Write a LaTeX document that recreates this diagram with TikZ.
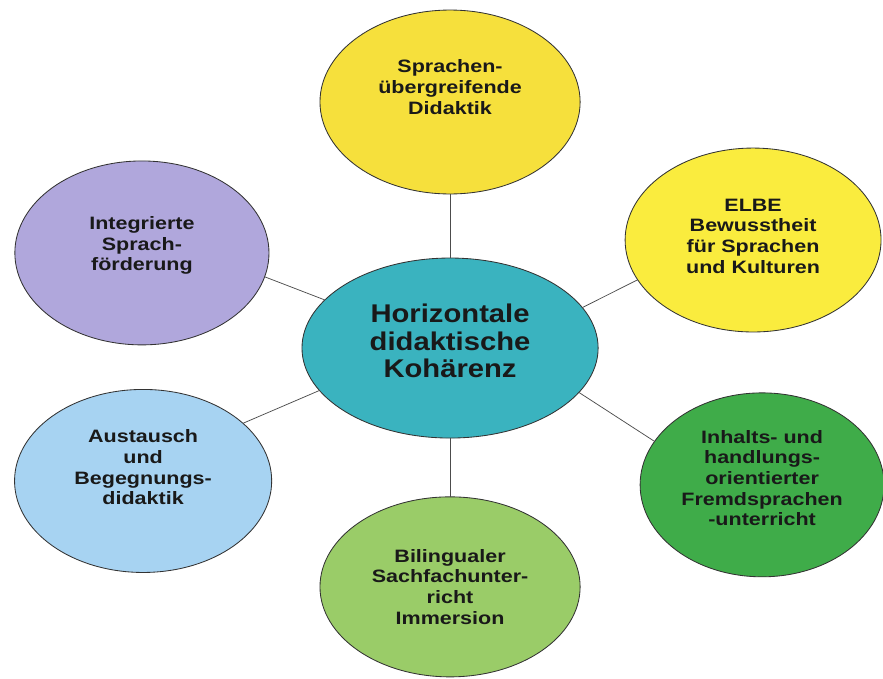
\documentclass[tikz,border=0pt]{standalone}
\usepackage{fontspec}
\setmainfont{Liberation Sans}
\newfontfamily\bubblefont[FakeStretch=1.2]{Liberation Sans}
\newfontfamily\hubfont[FakeStretch=1.14]{Liberation Sans}
\usetikzlibrary{shapes.geometric}

\definecolor{hubteal}{HTML}{3AB3BF}
\definecolor{sprachenyellow}{HTML}{F6E03C}
\definecolor{elbeyellow}{HTML}{FAEC3E}
\definecolor{integriertlilac}{HTML}{B0A7DC}
\definecolor{austauschblue}{HTML}{A7D3F2}
\definecolor{bilingualgreen}{HTML}{9ACC68}
\definecolor{inhaltegreen}{HTML}{3FAC49}

\begin{document}
\begin{tikzpicture}[bubble/.style={ellipse,draw=black!80,line width=0.8pt,inner sep=0pt,outer sep=0pt},
  bubble text/.style={align=center,text=black!90,font=\bubblefont\bfseries\fontsize{17}{19.6}\selectfont},
  hub text/.style={align=center,text=black!90,font=\hubfont\bfseries\fontsize{24.3}{26.2}\selectfont},
  link/.style={draw=black!70,line width=0.7pt}]

\useasboundingbox (0,0) rectangle (29.43,22.63);

% centre
\node[bubble,fill=hubteal,minimum width=9.87cm,minimum height=6cm] (hub) at (15.0,11.03) {};
\node[hub text] (hubtext) at ([yshift=2.3mm]hub.center) {Horizontale\\didaktische\\Kohärenz};

% outer ring
\node[bubble,fill=sprachenyellow,minimum width=8.67cm,minimum height=6.13cm] (sprachen) at (15.0,19.23) {};
\node[bubble text] (sprachentext) at ([yshift=5mm]sprachen.center) {Sprachen-\\übergreifende\\Didaktik};

\node[bubble,fill=elbeyellow,minimum width=8.53cm,minimum height=6.13cm] (elbe) at (25.1,14.63) {};
\node[bubble text] (elbetext) at ([yshift=1.3mm]elbe.center) {ELBE\\Bewusstheit\\für Sprachen\\und Kulturen};

\node[bubble,fill=integriertlilac,minimum width=8.47cm,minimum height=6.13cm] (integriert) at (4.73,14.2) {};
\node[bubble text] (integrierttext) at ([yshift=2.5mm]integriert.center) {Integrierte\\Sprach-\\förderung};

\node[bubble,fill=austauschblue,minimum width=8.57cm,minimum height=6.1cm] (austausch) at (4.77,6.6) {};
\node[bubble text] (austauschtext) at ([yshift=4.5mm]austausch.center) {Austausch\\und\\Begegnungs-\\didaktik};

\node[bubble,fill=bilingualgreen,minimum width=8.67cm,minimum height=6cm] (bilingual) at (15.0,3.07) {};
\node[bubble text] (bilingualtext) at (bilingual.center) {Bilingualer\\Sachfachunter-\\richt\\Immersion};

\node[bubble,fill=inhaltegreen,minimum width=8.13cm,minimum height=6.13cm] (inhalte) at (25.4,6.47) {};
\node[bubble text] (inhaltetext) at ([yshift=2.3mm]inhalte.center) {Inhalts- und\\handlungs-\\orientierter\\Fremdsprachen\\-unterricht};

% spokes
\draw[link] (hub.north) -- (sprachen.south);
\draw[link] (hub.south) -- (bilingual.north);
\draw[link] (hub.159) -- (integriert.-11);
\draw[link] (hub.-162) -- (austausch.30);
\draw[link] (hub.17) -- (elbe.199);
\draw[link] (hub.-19) -- (inhalte.158);
\end{tikzpicture}
\end{document}
